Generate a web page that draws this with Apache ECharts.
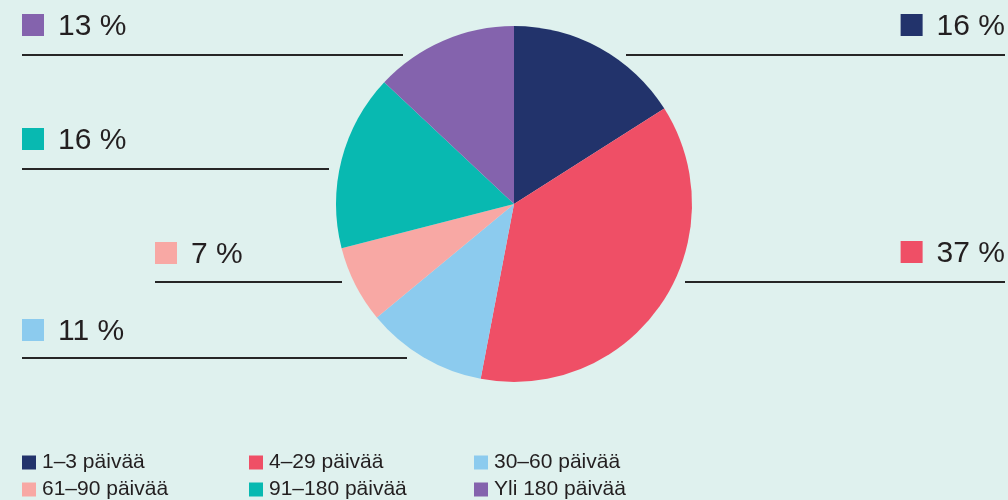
<!DOCTYPE html>
<html>
<head>
<meta charset="utf-8">
<script src="https://cdn.jsdelivr.net/npm/echarts@6/dist/echarts.min.js"></script>
<style>
  html, body { margin: 0; padding: 0; background: #dff1ee; }
  #chart { width: 1008px; height: 500px; }
</style>
</head>
<body>
<div id="chart"></div>
<script>
// data
const categories = ['1–3 päivää', '4–29 päivää', '30–60 päivää', '61–90 päivää', '91–180 päivää', 'Yli 180 päivää'];
const shares = [16, 37, 11, 7, 16, 13];
const colors = ['#22336b', '#ef4f66', '#8ccbee', '#f8a8a4', '#08b9b1', '#8463ad'];

// where each outside label + its underline sits (pixels)
const labelSpots = [
  { side: 'right', x: 1005, y: 25, lineY: 55, from: 626, to: 1005 },
  { side: 'right', x: 1005, y: 252, lineY: 282, from: 685, to: 1005 },
  { side: 'left', x: 22, y: 330, lineY: 358, from: 22, to: 407 },
  { side: 'left', x: 155, y: 253, lineY: 282, from: 155, to: 342 },
  { side: 'left', x: 22, y: 139, lineY: 169, from: 22, to: 329 },
  { side: 'left', x: 22, y: 25, lineY: 55, from: 22, to: 403 },
];

// legend grid: 3 columns x 2 rows
const legendCols = [22, 249, 474];
const legendRows = [452, 479];

const textColor = '#231f20';
const chart = echarts.init(document.getElementById('chart'));

const rich = {};
colors.forEach((c, i) => {
  rich['sq' + i] = { backgroundColor: c, width: 22, height: 22 };
});
rich.gap = { width: 14 };
rich.t = { fontSize: 30, color: textColor, fontFamily: 'Liberation Sans', padding: [3, 0, 0, 0] };

const legends = categories.map((name, i) => ({
  left: legendCols[i % 3],
  top: legendRows[Math.floor(i / 3)],
  padding: 0,
  icon: 'rect',
  itemWidth: 14,
  itemHeight: 14,
  selectedMode: false,
  data: [name],
  textStyle: { fontSize: 21, color: textColor, fontFamily: 'Liberation Sans', padding: [0, 0, 0, 1] },
}));

chart.setOption({
  backgroundColor: '#dff1ee',
  color: colors,
  animation: false,
  legend: legends,
  series: [
    {
      type: 'pie',
      center: [514, 204],
      radius: 178,
      startAngle: 90,
      clockwise: true,
      avoidLabelOverlap: false,
      itemStyle: { borderWidth: 0 },
      emphasis: { disabled: true },
      data: categories.map((name, i) => ({ name, value: shares[i] })),
      label: {
        show: true,
        position: 'outside',
        formatter: (p) => '{sq' + p.dataIndex + '|}{gap|}{t|' + p.value + ' %}',
        rich: rich,
      },
      labelLine: {
        show: true,
        lineStyle: { color: '#262626', width: 2 },
      },
      labelLayout: (p) => {
        const s = labelSpots[p.dataIndex];
        return {
          x: s.x,
          y: s.y,
          align: s.side,
          verticalAlign: 'middle',
          labelLinePoints: [[s.from, s.lineY], [(s.from + s.to) / 2, s.lineY], [s.to, s.lineY]],
        };
      },
    },
  ],
});
</script>
</body>
</html>
